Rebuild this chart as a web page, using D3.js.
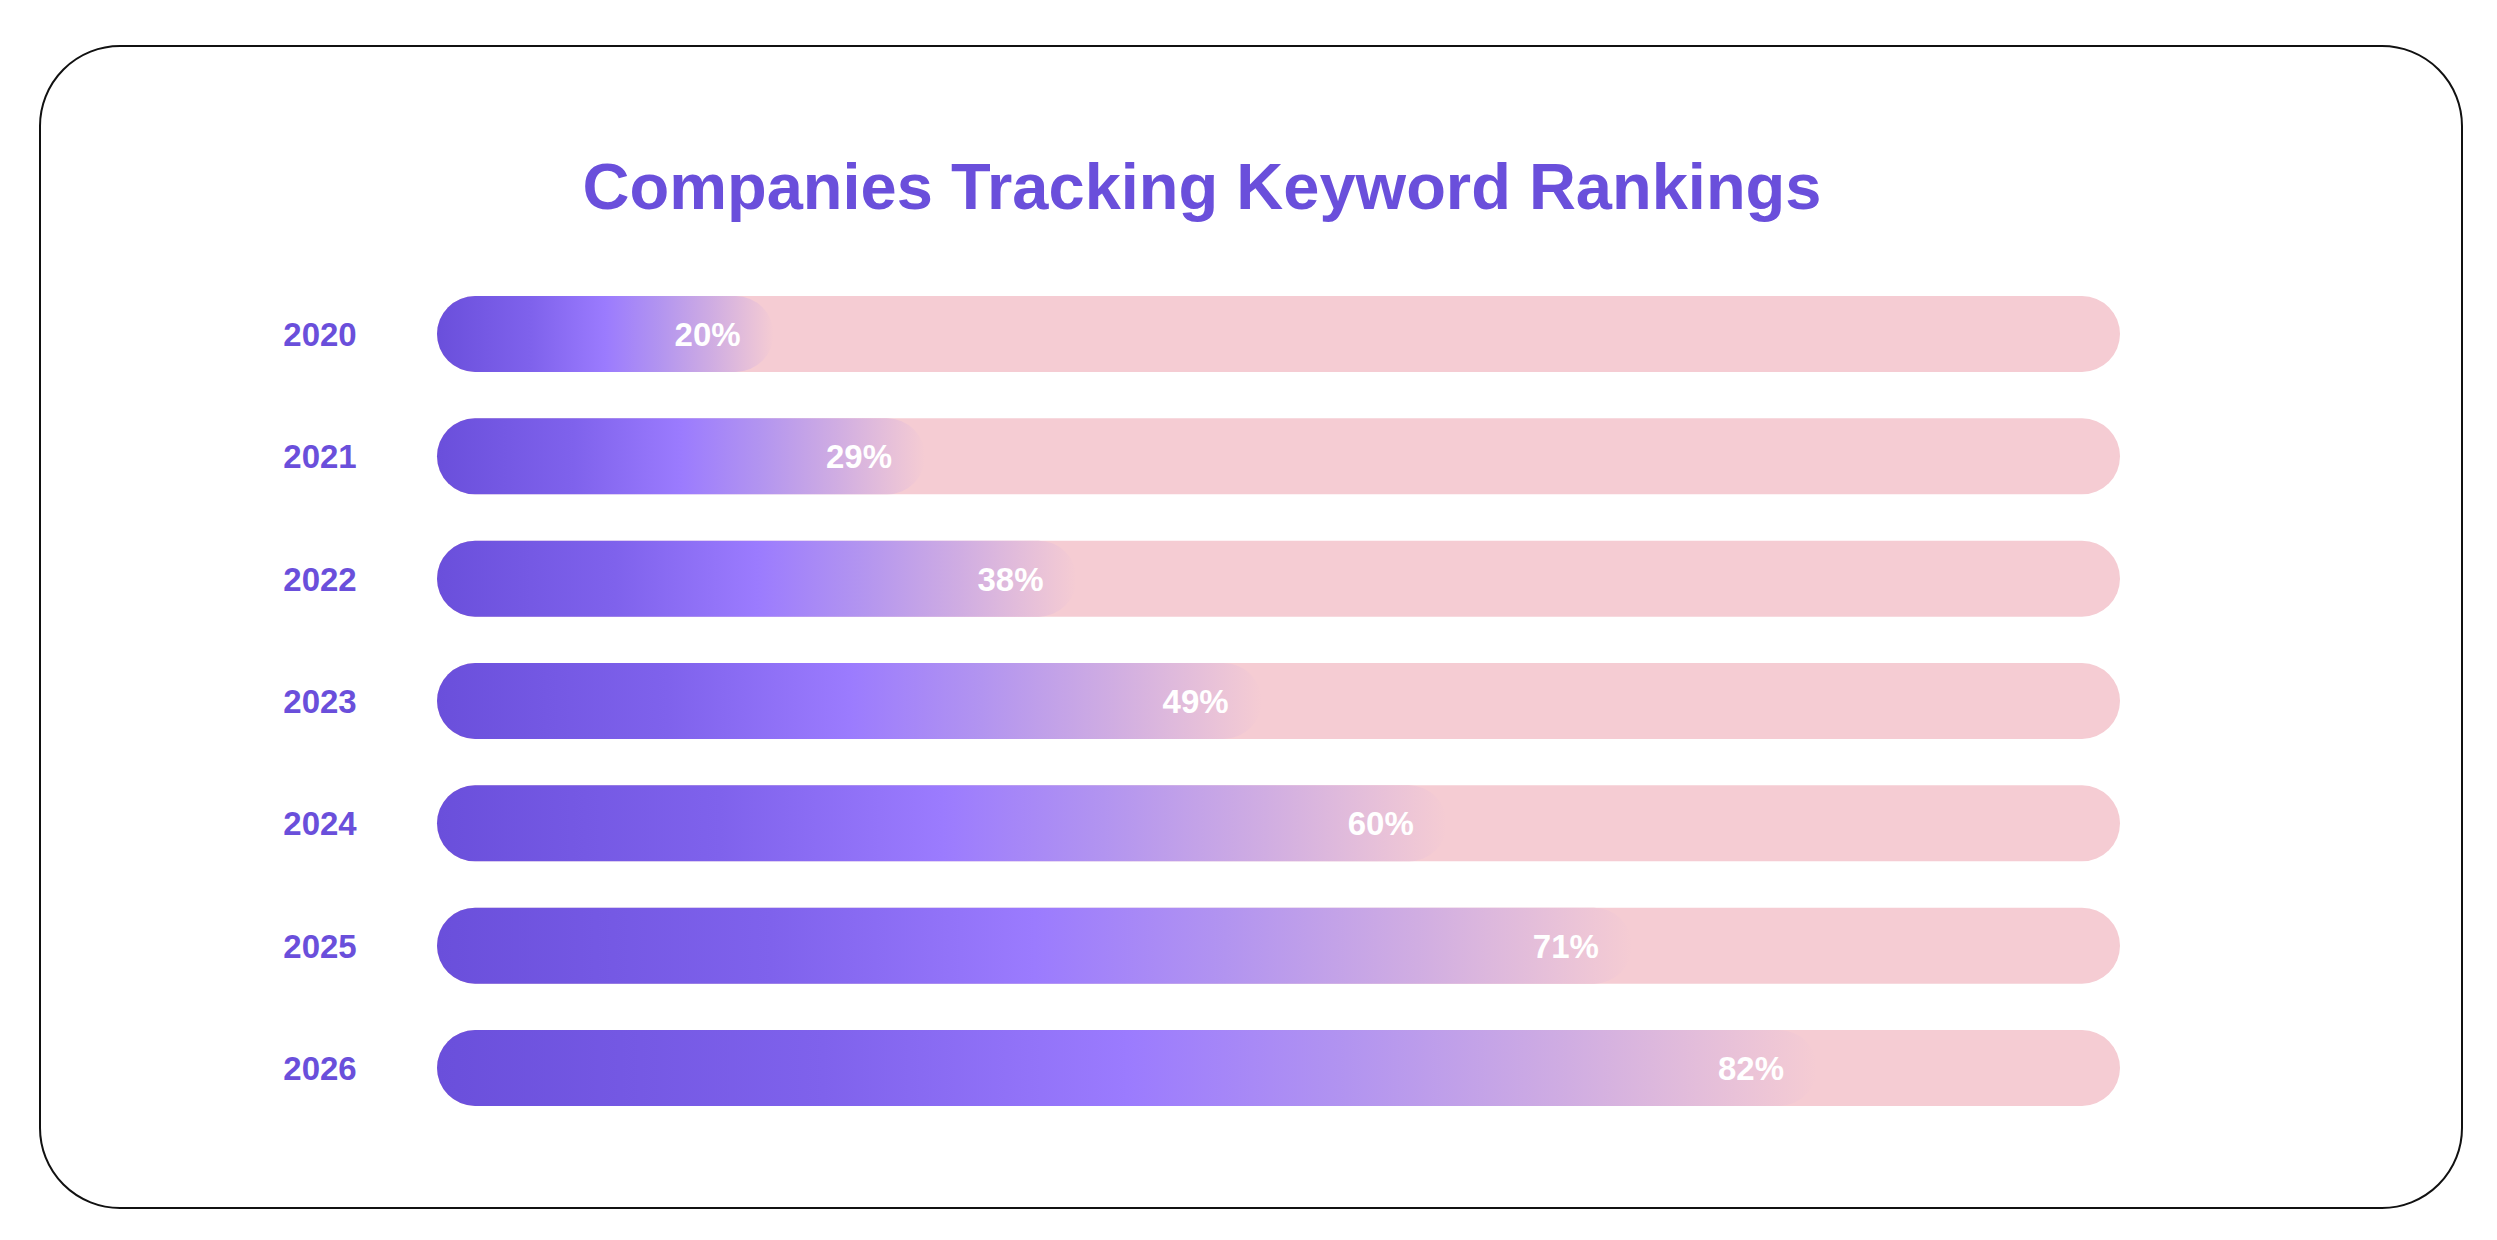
<!DOCTYPE html>
<html>
<head>
<meta charset="utf-8">
<script src="https://cdn.jsdelivr.net/npm/d3@7"></script>
<style>
  body { margin: 0; background: #fff; }
  svg { display: block; }
</style>
</head>
<body>
<div id="chart"></div>
<script>
const width = 2497, height = 1240;

// data
const years = ["2020", "2021", "2022", "2023", "2024", "2025", "2026"];
const shares = [20, 29, 38, 49, 60, 71, 82];
const chartTitle = "Companies Tracking Keyword Rankings";

const purple = "#6a4fdb";
const pink = "#f5ccd3";

var svg = d3.select("#chart")
  .append("svg")
  .attr("width", width)
  .attr("height", height);

// card outline
svg.append("rect")
  .attr("x", 40)
  .attr("y", 46)
  .attr("width", 2422)
  .attr("height", 1162)
  .attr("rx", 80)
  .attr("ry", 80)
  .attr("fill", "#fff")
  .attr("stroke", "#111")
  .attr("stroke-width", 2);

// title
svg.append("text")
  .attr("x", 1202)
  .attr("y", 209)
  .attr("text-anchor", "middle")
  .attr("font-family", "'Liberation Sans', Arial, sans-serif")
  .attr("font-weight", "bold")
  .attr("font-size", 65)
  .attr("fill", purple)
  .text(chartTitle);

let x = d3.scaleLinear()
  .domain([0, 100])
  .range([437, 2120]);

let y = d3.scalePoint()
  .domain(years)
  .range([334, 1068]);

const barH = 76;

// gradient for the filled part
const defs = svg.append("defs");
const grad = defs.append("linearGradient")
  .attr("id", "fillGrad")
  .attr("x1", "0%").attr("x2", "100%")
  .attr("y1", "0%").attr("y2", "0%");
[[0, "#6a4fdb"], [0.28, "#7f62ec"], [0.5, "#9b7bfe"], [0.66, "#b294f0"],
 [0.82, "#d0ade2"], [1, pink]].forEach(s => {
  grad.append("stop").attr("offset", s[0]).attr("stop-color", s[1]);
});

const rows = svg.selectAll(".row")
  .data(years.map((yr, i) => ({ year: yr, value: shares[i] })))
  .enter()
  .append("g")
  .attr("class", "row");

// track
rows.append("rect")
  .attr("x", x(0))
  .attr("y", d => y(d.year) - barH / 2)
  .attr("width", x(100) - x(0))
  .attr("height", barH)
  .attr("rx", barH / 2)
  .attr("fill", pink);

// filled part
rows.append("rect")
  .attr("x", x(0))
  .attr("y", d => y(d.year) - barH / 2)
  .attr("width", d => x(d.value) - x(0))
  .attr("height", barH)
  .attr("rx", barH / 2)
  .attr("fill", "url(#fillGrad)");

// year labels
rows.append("text")
  .attr("x", 320)
  .attr("y", d => y(d.year))
  .attr("dy", "0.36em")
  .attr("text-anchor", "middle")
  .attr("font-family", "'Liberation Sans', Arial, sans-serif")
  .attr("font-weight", "bold")
  .attr("font-size", 33)
  .attr("fill", purple)
  .text(d => d.year);

// value labels
rows.append("text")
  .attr("x", d => x(d.value) - 33)
  .attr("y", d => y(d.year))
  .attr("dy", "0.36em")
  .attr("text-anchor", "end")
  .attr("font-family", "'Liberation Sans', Arial, sans-serif")
  .attr("font-weight", "bold")
  .attr("font-size", 33)
  .attr("fill", "#fff")
  .text(d => d.value + "%");
</script>
</body>
</html>
